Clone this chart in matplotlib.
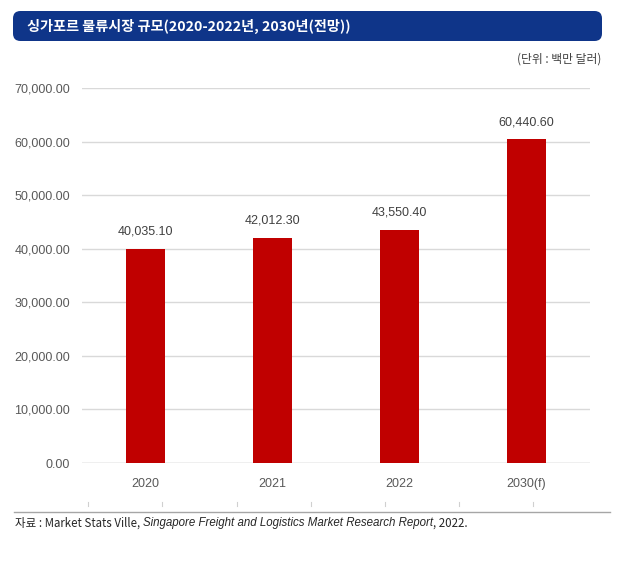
import matplotlib.pyplot as plt
from matplotlib.patches import FancyBboxPatch
from matplotlib.lines import Line2D
from matplotlib.ticker import FuncFormatter

# data
years = ["2020", "2021", "2022", "2030(f)"]
market = [40035.10, 42012.30, 43550.40, 60440.60]
yticks = [0, 10000, 20000, 30000, 40000, 50000, 60000, 70000]

title = "싱가포르 물류시장 규모(2020-2022년, 2030년(전망))"
unit = "(단위 : 백만 달러)"
src_parts = [("자료 : Market Stats Ville, ", "normal"),
             ("Singapore Freight and Logistics Market Research Report", "italic"),
             (", 2022.", "normal")]

W, H = 619, 561
kr = ["Noto Sans CJK KR", "DejaVu Sans"]
num = ["Liberation Sans", "DejaVu Sans"]
lat = ["Liberation Sans", "Noto Sans CJK KR", "DejaVu Sans"]

fig = plt.figure(figsize=(W / 100, H / 100), dpi=100)

def fx(px):
    return px / W

def fy(py):
    return 1 - py / H

# title bar
bar = FancyBboxPatch((fx(13), fy(41)), fx(602) - fx(13), fy(11) - fy(41),
                     boxstyle="round,pad=0,rounding_size=0.012",
                     transform=fig.transFigure, facecolor="#0f3589",
                     edgecolor="none", mutation_aspect=W / H)
fig.patches.append(bar)
fig.text(fx(27), fy(26.5), title, color="white", fontsize=10.2,
         fontweight="bold", family=kr, va="center", ha="left")
fig.text(fx(601), fy(59), unit, color="#404040", fontsize=8.5,
         family=kr, va="center", ha="right")

# chart
ax = fig.add_axes([fx(82), fy(463), fx(590) - fx(82), fy(88) - fy(463)])
x = range(len(years))
ax.bar(x, market, width=0.31, color="#c00000", zorder=3)
ax.set_xlim(-0.5, len(years) - 0.5)
ax.set_ylim(0, 70000)
ax.set_yticks(yticks)
ax.yaxis.set_major_formatter(FuncFormatter(lambda v, p: f"{v:,.2f}"))
ax.set_xticks(list(x))
ax.set_xticklabels(years)
ax.grid(axis="y", color="#d9d9d9", linewidth=1, zorder=0)
ax.tick_params(length=0, colors="#595959", labelsize=9)
ax.tick_params(axis="x", pad=11)
ax.tick_params(axis="y", pad=8.5)
for lab in ax.get_xticklabels() + ax.get_yticklabels():
    lab.set_family(num)
for s in ax.spines.values():
    s.set_visible(False)
ax.axhline(0, color="#d0d0d0", linewidth=1, zorder=2)

for i, v in enumerate(market):
    ax.annotate(f"{v:,.2f}", (i, v), xytext=(0, 8), textcoords="offset points",
                ha="center", va="bottom", fontsize=9, color="#404040",
                family=num)

# faint tick marks under the chart
for px in [88, 162, 237, 311, 385, 459, 533]:
    fig.add_artist(Line2D([fx(px), fx(px)], [fy(502), fy(506)],
                          transform=fig.transFigure, color="#d0d0d0", lw=0.8))

# separator and source
fig.add_artist(Line2D([fx(14), fx(610)], [fy(511.5), fy(511.5)],
                      transform=fig.transFigure, color="#a6a6a6", lw=1))
renderer = fig.canvas.get_renderer()
xpos = fx(15)
for txt, style in src_parts:
    t = fig.text(xpos, fy(523), txt, fontsize=8.3, color="#262626",
                 family=kr if style == "normal" else lat, style=style,
                 va="center", ha="left")
    bb = t.get_window_extent(renderer)
    xpos += bb.width / W

fig.savefig("out.png", dpi=100)
